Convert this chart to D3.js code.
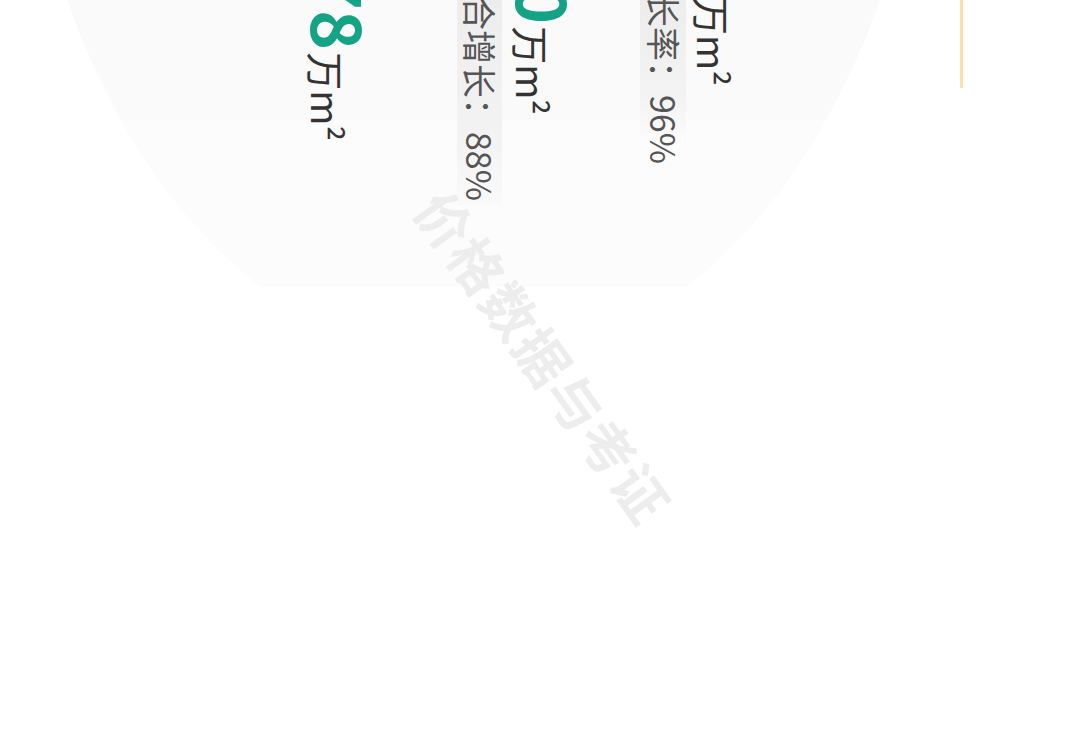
<!DOCTYPE html>
<html>
<head>
<meta charset="utf-8">
<script src="https://cdn.jsdelivr.net/npm/d3@7"></script>
<style>
  html, body { margin: 0; padding: 0; background: #fff; }
  #container svg { display: block; }
</style>
</head>
<body>
<div id="container"><svg></svg></div>
<script>
let width = 1080;
let height = 746;

// visible parts of the figures (the rest is cut off at the top edge)
const bigNumbers = ["78", "0", ""];
const unitText = ["万m²", "万m²", "万m²"];
const growthNames = ["合增长：", "长率："];
const growthValues = [88, 96];
const watermark = "价格数据与考证";

// layout, kept apart from the data
const numPos = [{x: 311, y: -30}, {x: 516, y: -16}, {x: 697, y: -5}];
const growthPos = [{x: 466, y: -4, x0: 457, x1: 502, end: 205},
                   {x: 650, y: -7, x0: 640, x1: 686, end: 135}];

const FONT = "'Noto Sans CJK SC', 'Noto Sans', sans-serif";
const GREEN = "#14a384";

function draw() {
    let svg = d3.select('#container').select('svg')
        .attr('width', width)
        .attr('height', height);

    let defs = svg.append("defs");

    // big pale disc, shaded in flat horizontal bands
    let g = defs.append("linearGradient")
        .attr("id", "disc")
        .attr("gradientUnits", "userSpaceOnUse")
        .attr("x1", 0).attr("y1", 0).attr("x2", 0).attr("y2", height);
    [[0, "#fafafa"], [120 / height, "#fafafa"], [120 / height, "#fcfcfc"],
     [287 / height, "#fcfcfc"], [287 / height, "#ffffff"], [1, "#ffffff"]]
        .forEach(s => g.append("stop").attr("offset", s[0]).attr("stop-color", s[1]));

    svg.append("ellipse")
        .attr("cx", 473.5).attr("cy", -302)
        .attr("rx", 456).attr("ry", 666)
        .attr("fill", "url(#disc)");

    // label bands fading out
    let bands = defs.selectAll("linearGradient.band")
        .data(growthPos)
        .join("linearGradient")
        .attr("class", "band")
        .attr("id", (d, i) => "band" + i)
        .attr("x1", 0).attr("y1", 0).attr("x2", 0).attr("y2", 1);
    bands.append("stop").attr("offset", 0).attr("stop-color", "#ededed");
    bands.append("stop").attr("offset", 0.7).attr("stop-color", "#f3f3f3");
    bands.append("stop").attr("offset", 1).attr("stop-color", "#fafafa");

    svg.append("g")
        .selectAll("rect")
        .data(growthPos)
        .join("rect")
        .attr("x", d => d.x0)
        .attr("y", 0)
        .attr("width", d => d.x1 - d.x0)
        .attr("height", d => d.end)
        .attr("fill", (d, i) => "url(#band" + i + ")");

    // watermark
    svg.append("text")
        .attr("transform", "translate(545,356) rotate(54.3)")
        .attr("text-anchor", "middle")
        .attr("dominant-baseline", "central")
        .attr("font-family", FONT)
        .attr("font-weight", 700)
        .attr("font-size", 54)
        .attr("letter-spacing", 2)
        .attr("fill", "#ededed")
        .text(watermark);

    // values with units, text turned a quarter clockwise
    let nums = svg.append("g")
        .selectAll("text")
        .data(bigNumbers)
        .join("text")
        .attr("transform", (d, i) => `translate(${numPos[i].x},${numPos[i].y}) rotate(90)`)
        .attr("font-family", FONT);
    nums.append("tspan")
        .attr("font-size", 68)
        .attr("font-weight", 700)
        .attr("fill", GREEN)
        .text(d => d);
    nums.append("tspan")
        .attr("font-size", 38)
        .attr("fill", "#333")
        .attr("dx", 2)
        .text((d, i) => unitText[i]);

    // growth labels
    svg.append("g")
        .selectAll("text")
        .data(growthValues)
        .join("text")
        .attr("transform", (d, i) => `translate(${growthPos[i].x},${growthPos[i].y}) rotate(90)`)
        .attr("font-family", FONT)
        .attr("font-size", 34)
        .attr("fill", "#555")
        .text((d, i) => growthNames[i] + d + "%");

    // orange accent line at the right
    svg.append("line")
        .attr("x1", 961.5).attr("x2", 961.5)
        .attr("y1", 0).attr("y2", 88)
        .attr("stroke", "#fde0a8")
        .attr("stroke-width", 3);
}

draw();
</script>
</body>
</html>
